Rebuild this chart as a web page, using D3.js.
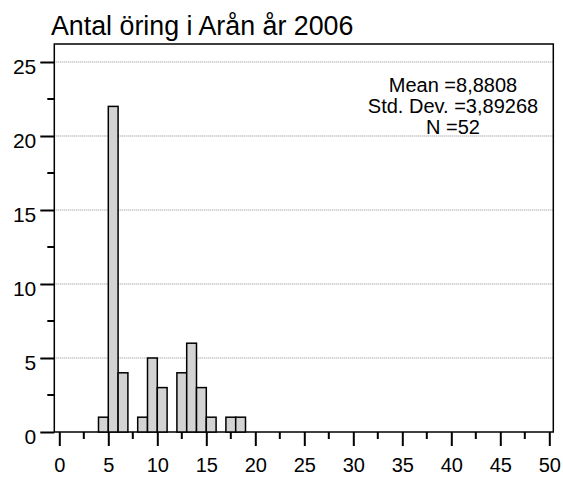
<!DOCTYPE html>
<html>
<head>
<meta charset="utf-8">
<script src="https://cdn.jsdelivr.net/npm/d3@7"></script>
<style>
  html, body { margin: 0; padding: 0; background: #fff; }
  svg { display: block; }
  text { font-family: "Liberation Sans", Arial, sans-serif; fill: #000; }
</style>
</head>
<body>
<script>
// ---- data ----
const title = "Antal öring i Arån år 2006";
const binStarts = [4, 5, 6, 8, 9, 10, 12, 13, 14, 15, 17, 18];
const binCounts = [1, 22, 4, 1, 5, 3, 4, 6, 3, 1, 1, 1];
const binWidth = 1;
const xTicks = [0, 5, 10, 15, 20, 25, 30, 35, 40, 45, 50];
const yTicks = [0, 5, 10, 15, 20, 25];
const statsLines = ["Mean =8,8808", "Std. Dev. =3,89268", "N =52"];

// ---- layout ----
const W = 563, H = 477;
const frame = { left: 54.3, right: 553.3, top: 44, bottom: 432 };

const svg = d3.select("body").append("svg").attr("width", W).attr("height", H);

const x = d3.scaleLinear().domain([0, 50]).range([59.3, 549.3]);
const y = d3.scaleLinear().domain([0, 25]).range([432, 62]);

// title
svg.append("text")
  .attr("x", 51).attr("y", 35)
  .attr("font-size", 26.8)
  .text(title);

// gridlines
svg.append("g").selectAll("line")
  .data(yTicks.filter(d => d > 0))
  .join("line")
  .attr("x1", frame.left).attr("x2", frame.right)
  .attr("y1", d => y(d)).attr("y2", d => y(d))
  .attr("stroke", "#8c8c8c")
  .attr("stroke-width", 1)
  .attr("stroke-dasharray", "1,1");

// frame
svg.append("rect")
  .attr("x", frame.left).attr("y", frame.top)
  .attr("width", frame.right - frame.left)
  .attr("height", frame.bottom - frame.top)
  .attr("fill", "none")
  .attr("stroke", "#000")
  .attr("stroke-width", 1.5);

// bars
const bins = binStarts.map((s, i) => ({ x0: s, x1: s + binWidth, n: binCounts[i] }));
svg.append("g").selectAll("rect")
  .data(bins)
  .join("rect")
  .attr("x", d => x(d.x0))
  .attr("y", d => y(d.n))
  .attr("width", d => x(d.x1) - x(d.x0))
  .attr("height", d => y(0) - y(d.n))
  .attr("fill", "#d3d3d3")
  .attr("stroke", "#000")
  .attr("stroke-width", 1.5);

// y axis
const yAxis = d3.axisLeft(y)
  .tickValues(yTicks)
  .tickSize(14)
  .tickPadding(4)
  .tickFormat(d3.format("d"));
const gy = svg.append("g").attr("transform", `translate(${frame.left},0)`).call(yAxis);
gy.select(".domain").remove();
gy.selectAll(".tick line").attr("stroke", "#000").attr("stroke-width", 2);
gy.selectAll(".tick text")
  .attr("font-size", 21)
  .attr("font-family", "Liberation Sans, Arial, sans-serif")
  .attr("dy", "0.55em");
// y minor ticks
const yMinor = d3.range(2.5, 25, 5);
svg.append("g").selectAll("line")
  .data(yMinor)
  .join("line")
  .attr("x1", frame.left - 7).attr("x2", frame.left)
  .attr("y1", d => y(d)).attr("y2", d => y(d))
  .attr("stroke", "#000").attr("stroke-width", 2);

// x axis
const xAxis = d3.axisBottom(x)
  .tickValues(xTicks)
  .tickSize(14)
  .tickPadding(12)
  .tickFormat(d3.format("d"));
const gx = svg.append("g").attr("transform", `translate(0,${frame.bottom})`).call(xAxis);
gx.select(".domain").remove();
gx.selectAll(".tick line").attr("stroke", "#000").attr("stroke-width", 2);
gx.selectAll(".tick text")
  .attr("font-size", 20)
  .attr("font-family", "Liberation Sans, Arial, sans-serif");
// x minor ticks
const xMinor = d3.range(2.5, 50, 5);
svg.append("g").selectAll("line")
  .data(xMinor)
  .join("line")
  .attr("x1", d => x(d)).attr("x2", d => x(d))
  .attr("y1", frame.bottom).attr("y2", frame.bottom + 7)
  .attr("stroke", "#000").attr("stroke-width", 2);

// stats
svg.append("g").selectAll("text")
  .data(statsLines)
  .join("text")
  .attr("x", 453)
  .attr("y", (d, i) => 91.5 + i * 21.2)
  .attr("text-anchor", "middle")
  .attr("font-size", 20)
  .text(d => d);
</script>
</body>
</html>
